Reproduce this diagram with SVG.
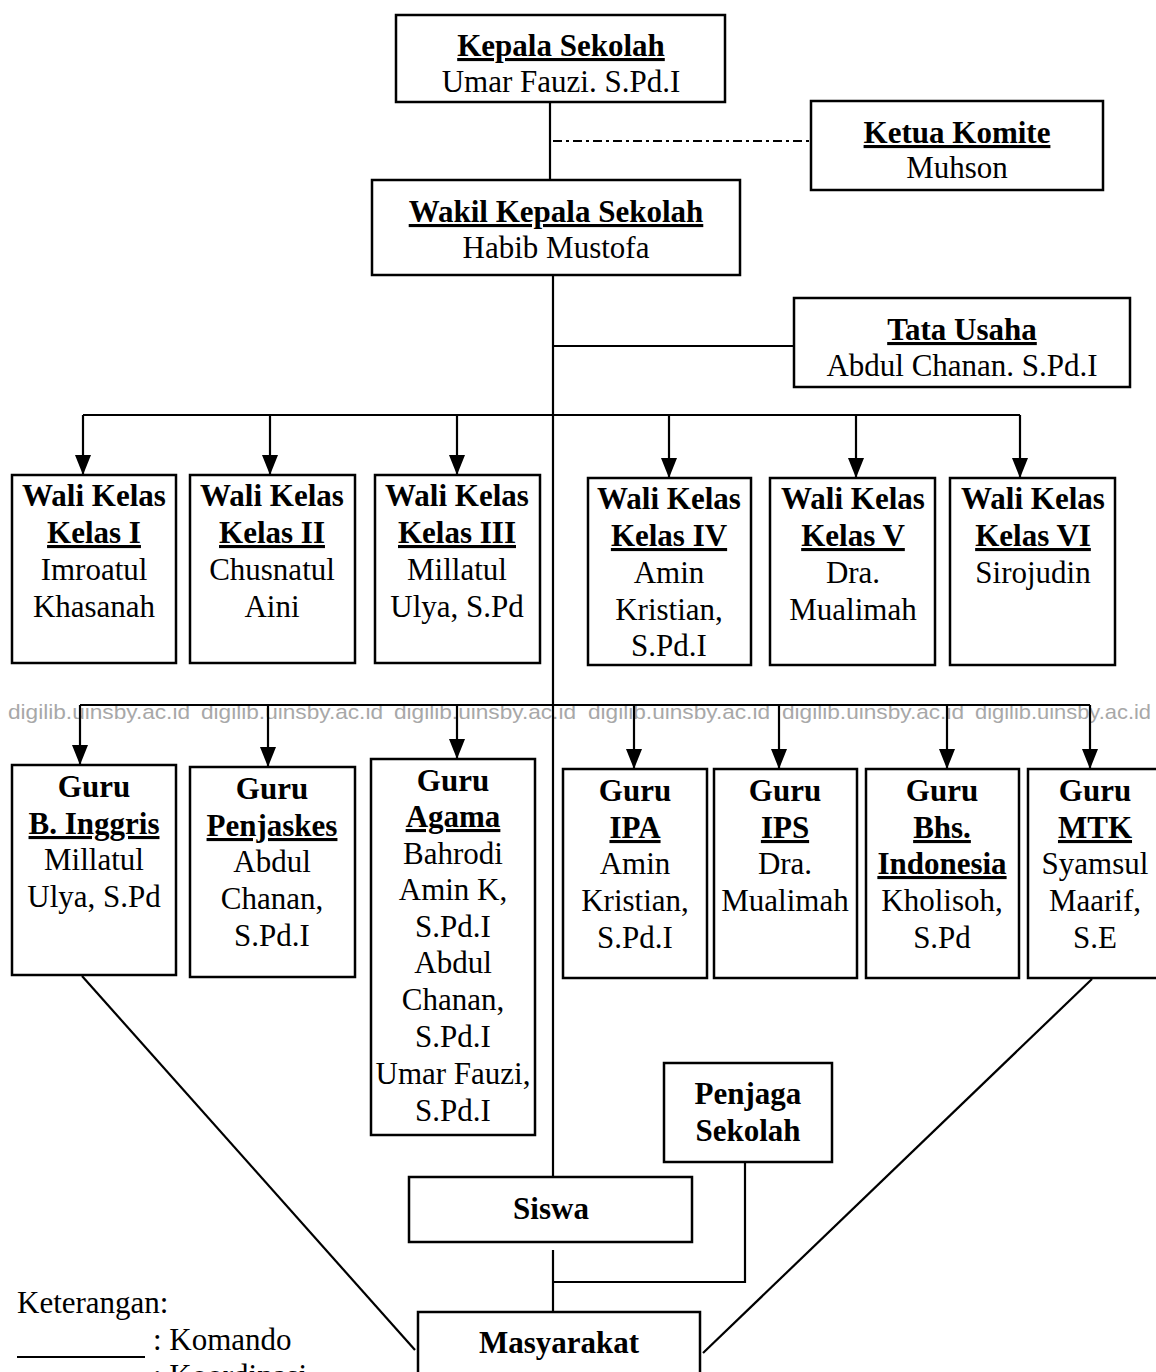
<svg xmlns="http://www.w3.org/2000/svg" width="1156" height="1372" viewBox="0 0 1156 1372">
<defs>
<marker id="arr" markerWidth="20" markerHeight="16" refX="20" refY="8" orient="auto" markerUnits="userSpaceOnUse" viewBox="0 0 20 16">
<path d="M0,0 L20,8 L0,16 Z" fill="#000"/>
</marker>
<style>
rect{fill:#fff;stroke:#000;stroke-width:2.5}
text{font-family:"Liberation Serif","Times New Roman",serif;font-size:31px;fill:#000;text-anchor:middle}
.b{font-weight:bold}
.u{font-weight:bold;text-decoration:underline}
.ln{fill:none;stroke:#000;stroke-width:2.2}
.wm{font-family:"Liberation Sans",Arial,sans-serif;font-size:21px;fill:#a8a8a8;text-anchor:start}
.lg{text-anchor:start}
</style>
</defs>
<rect x="0" y="0" width="1156" height="1372" style="fill:#fff;stroke:none"/>
<g id="watermark">
<text class="wm" x="8" y="719" textLength="182" lengthAdjust="spacingAndGlyphs">digilib.uinsby.ac.id</text>
<text class="wm" x="201" y="719" textLength="182" lengthAdjust="spacingAndGlyphs">digilib.uinsby.ac.id</text>
<text class="wm" x="394" y="719" textLength="182" lengthAdjust="spacingAndGlyphs">digilib.uinsby.ac.id</text>
<text class="wm" x="588" y="719" textLength="182" lengthAdjust="spacingAndGlyphs">digilib.uinsby.ac.id</text>
<text class="wm" x="782" y="719" textLength="182" lengthAdjust="spacingAndGlyphs">digilib.uinsby.ac.id</text>
<text class="wm" x="975" y="719" textLength="176" lengthAdjust="spacingAndGlyphs">digilib.uinsby.ac.id</text>
</g>
<g id="connectors">
<line class="ln" x1="550" y1="102" x2="550" y2="180"/>
<line class="ln" x1="553" y1="141" x2="811" y2="141" stroke-dasharray="9,4,3,4"/>
<line class="ln" x1="553" y1="275" x2="553" y2="1177"/>
<line class="ln" x1="553" y1="346" x2="794" y2="346"/>
<line class="ln" x1="83" y1="415" x2="1020" y2="415"/>
<line class="ln" x1="83" y1="415" x2="83" y2="475" marker-end="url(#arr)"/>
<line class="ln" x1="270" y1="415" x2="270" y2="475" marker-end="url(#arr)"/>
<line class="ln" x1="457" y1="415" x2="457" y2="475" marker-end="url(#arr)"/>
<line class="ln" x1="669" y1="415" x2="669" y2="478" marker-end="url(#arr)"/>
<line class="ln" x1="856" y1="415" x2="856" y2="478" marker-end="url(#arr)"/>
<line class="ln" x1="1020" y1="415" x2="1020" y2="478" marker-end="url(#arr)"/>
<line class="ln" x1="80" y1="705" x2="1090" y2="705"/>
<line class="ln" x1="80" y1="705" x2="80" y2="765" marker-end="url(#arr)"/>
<line class="ln" x1="268" y1="705" x2="268" y2="767" marker-end="url(#arr)"/>
<line class="ln" x1="457" y1="705" x2="457" y2="759" marker-end="url(#arr)"/>
<line class="ln" x1="634" y1="705" x2="634" y2="769" marker-end="url(#arr)"/>
<line class="ln" x1="779" y1="705" x2="779" y2="769" marker-end="url(#arr)"/>
<line class="ln" x1="947" y1="705" x2="947" y2="769" marker-end="url(#arr)"/>
<line class="ln" x1="1090" y1="705" x2="1090" y2="769" marker-end="url(#arr)"/>
<line class="ln" x1="553" y1="1250" x2="553" y2="1312"/>
<polyline class="ln" points="745,1162 745,1282 553,1282"/>
<line class="ln" x1="82" y1="976" x2="415" y2="1350"/>
<line class="ln" x1="1092" y1="979" x2="703" y2="1353"/>
</g>
<g id="kepala">
<rect x="396" y="15" width="329" height="87"/>
<text class="u" x="561" y="56">Kepala Sekolah</text>
<text x="561" y="92">Umar Fauzi. S.Pd.I</text>
</g>
<g id="komite">
<rect x="811" y="101" width="292" height="89"/>
<text class="u" x="957" y="143">Ketua Komite</text>
<text x="957" y="178">Muhson</text>
</g>
<g id="wakil">
<rect x="372" y="180" width="368" height="95"/>
<text class="u" x="556" y="222">Wakil Kepala Sekolah</text>
<text x="556" y="258">Habib Mustofa</text>
</g>
<g id="tatausaha">
<rect x="794" y="298" width="336" height="89"/>
<text class="u" x="962" y="340">Tata Usaha</text>
<text x="962" y="376">Abdul Chanan. S.Pd.I</text>
</g>
<g id="wali1">
<rect x="12" y="475" width="164" height="188"/>
<text class="b" x="94" y="506">Wali Kelas</text>
<text class="u" x="94" y="543">Kelas I</text>
<text x="94" y="580">Imroatul</text>
<text x="94" y="617">Khasanah</text>
</g>
<g id="wali2">
<rect x="190" y="475" width="165" height="188"/>
<text class="b" x="272" y="506">Wali Kelas</text>
<text class="u" x="272" y="543">Kelas II</text>
<text x="272" y="580">Chusnatul</text>
<text x="272" y="617">Aini</text>
</g>
<g id="wali3">
<rect x="375" y="475" width="165" height="188"/>
<text class="b" x="457" y="506">Wali Kelas</text>
<text class="u" x="457" y="543">Kelas III</text>
<text x="457" y="580">Millatul</text>
<text x="457" y="617">Ulya, S.Pd</text>
</g>
<g id="wali4">
<rect x="588" y="478" width="163" height="187"/>
<text class="b" x="669" y="509">Wali Kelas</text>
<text class="u" x="669" y="546">Kelas IV</text>
<text x="669" y="583">Amin</text>
<text x="669" y="620">Kristian,</text>
<text x="669" y="656">S.Pd.I</text>
</g>
<g id="wali5">
<rect x="770" y="478" width="165" height="187"/>
<text class="b" x="853" y="509">Wali Kelas</text>
<text class="u" x="853" y="546">Kelas V</text>
<text x="853" y="583">Dra.</text>
<text x="853" y="620">Mualimah</text>
</g>
<g id="wali6">
<rect x="950" y="478" width="165" height="187"/>
<text class="b" x="1033" y="509">Wali Kelas</text>
<text class="u" x="1033" y="546">Kelas VI</text>
<text x="1033" y="583">Sirojudin</text>
</g>
<g id="guru-inggris">
<rect x="12" y="765" width="164" height="210"/>
<text class="b" x="94" y="797">Guru</text>
<text class="u" x="94" y="834">B. Inggris</text>
<text x="94" y="870">Millatul</text>
<text x="94" y="907">Ulya, S.Pd</text>
</g>
<g id="guru-penjaskes">
<rect x="190" y="767" width="165" height="210"/>
<text class="b" x="272" y="799">Guru</text>
<text class="u" x="272" y="836">Penjaskes</text>
<text x="272" y="872">Abdul</text>
<text x="272" y="909">Chanan,</text>
<text x="272" y="946">S.Pd.I</text>
</g>
<g id="guru-agama">
<rect x="371" y="759" width="164" height="376"/>
<text class="b" x="453" y="791">Guru</text>
<text class="u" x="453" y="827">Agama</text>
<text x="453" y="864">Bahrodi</text>
<text x="453" y="900">Amin K,</text>
<text x="453" y="937">S.Pd.I</text>
<text x="453" y="973">Abdul</text>
<text x="453" y="1010">Chanan,</text>
<text x="453" y="1047">S.Pd.I</text>
<text x="453" y="1084">Umar Fauzi,</text>
<text x="453" y="1121">S.Pd.I</text>
</g>
<g id="guru-ipa">
<rect x="563" y="769" width="144" height="209"/>
<text class="b" x="635" y="801">Guru</text>
<text class="u" x="635" y="838">IPA</text>
<text x="635" y="874">Amin</text>
<text x="635" y="911">Kristian,</text>
<text x="635" y="948">S.Pd.I</text>
</g>
<g id="guru-ips">
<rect x="714" y="769" width="143" height="209"/>
<text class="b" x="785" y="801">Guru</text>
<text class="u" x="785" y="838">IPS</text>
<text x="785" y="874">Dra.</text>
<text x="785" y="911">Mualimah</text>
</g>
<g id="guru-bhs">
<rect x="866" y="769" width="153" height="209"/>
<text class="b" x="942" y="801">Guru</text>
<text class="u" x="942" y="838">Bhs.</text>
<text class="u" x="942" y="874">Indonesia</text>
<text x="942" y="911">Kholisoh,</text>
<text x="942" y="948">S.Pd</text>
</g>
<g id="guru-mtk">
<rect x="1028" y="769" width="140" height="209"/>
<text class="b" x="1095" y="801">Guru</text>
<text class="u" x="1095" y="838">MTK</text>
<text x="1095" y="874">Syamsul</text>
<text x="1095" y="911">Maarif,</text>
<text x="1095" y="948">S.E</text>
</g>
<g id="penjaga">
<rect x="664" y="1063" width="168" height="99"/>
<text class="b" x="748" y="1104">Penjaga</text>
<text class="b" x="748" y="1141">Sekolah</text>
</g>
<g id="siswa">
<rect x="409" y="1177" width="283" height="65"/>
<text class="b" x="551" y="1219">Siswa</text>
</g>
<g id="masyarakat">
<rect x="418" y="1312" width="282" height="80"/>
<text class="b" x="559" y="1353">Masyarakat</text>
</g>
<g id="legend">
<text class="lg" x="17" y="1313">Keterangan:</text>
<line class="ln" x1="17" y1="1357" x2="145" y2="1357"/>
<text class="lg" x="153" y="1350">: Komando</text>
<text class="lg" x="153" y="1386">: Koordinasi</text>
</g>
</svg>
